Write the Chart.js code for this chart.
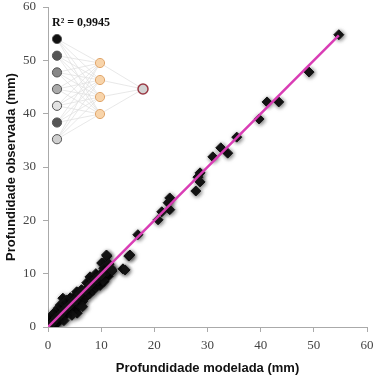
<!DOCTYPE html>
<html lang="pt">
<head>
  <meta charset="UTF-8" />
  <title>Profundidade observada x modelada</title>
  <script src="https://cdn.jsdelivr.net/npm/chart.js"></script>
  <style>
    html, body { margin: 0; padding: 0; background: #fff; }
    #wrap { width: 375px; height: 377px; position: relative; }
  </style>
</head>
<body>
  <div id="wrap"><canvas id="chart"></canvas></div>

  <script>
    // modelada (x) and observada (y), mm
    const modelada = [
      54.7, 49.1, 43.4, 41.2, 39.7, 35.5, 33.8, 32.5, 31.0, 28.6,
      28.2, 28.6, 27.8, 22.9, 22.6, 22.9, 21.4, 20.7, 16.9, 15.2,
      14.1, 11.1, 10.3, 15.4, 14.5,
      0.2, 0.5, 1.0, 1.3, 2.0, 2.3, 2.8, 3.0, 3.5, 4.2,
      4.7, 5.4, 5.8, 6.3, 7.3, 7.9, 8.5, 9.0, 10.1, 10.3,
      11.0, 10.5, 11.5,
      0.8, 1.5, 2.0, 2.8, 3.5, 4.2, 5.0, 5.5, 6.0, 6.5,
      7.0, 7.8, 8.5, 9.0, 9.8, 10.5, 11.3, 12.0, 11.8, 4.5,
      3.0, 6.5, 9.4, 10.3, 11.0, 12.0,
      0.0, 0.3, 0.6, 1.0, 1.6, 2.5, 3.2, 4.0, 5.0, 6.0,
      7.0, 8.0, 9.0, 10.0
    ];
    const observada = [
      54.8, 47.8, 42.2, 42.2, 39.0, 35.6, 32.6, 33.6, 31.9, 28.9,
      28.1, 27.2, 25.5, 24.2, 23.3, 22.0, 21.6, 20.1, 17.3, 13.3,
      10.9, 13.3, 12.0, 13.5, 10.7,
      1.0, 1.8, 2.5, 2.8, 3.6, 4.1, 5.4, 4.5, 5.0, 5.5,
      5.4, 6.6, 6.2, 7.0, 8.3, 9.4, 8.8, 10.0, 12.0, 10.3,
      13.5, 11.0, 11.8,
      0.0, 0.6, 1.0, 1.8, 2.5, 3.0, 3.5, 2.6, 4.0, 4.8,
      5.5, 6.2, 6.9, 7.5, 7.8, 8.5, 9.5, 10.5, 11.0, 2.2,
      1.2, 3.8, 8.8, 8.8, 10.3, 10.7,
      0.0, 0.3, 0.5, 1.0, 1.7, 2.5, 3.3, 4.0, 5.0, 6.2,
      7.0, 8.0, 9.0, 9.8
    ];

    // fitted line ends
    const linhaX = [0, 54.7];
    const linhaY = [0, 54.7];

    const xTicks = [0, 10, 20, 30, 40, 50, 60];
    const yTicks = [0, 10, 20, 30, 40, 50, 60];

    const r2Label = 'R² = 0,9945';

    const pontos = modelada.map((x, i) => ({ x: x, y: observada[i] }));
    const linha = linhaX.map((x, i) => ({ x: x, y: linhaY[i] }));

    // soft shadow on the diamonds
    const shadowPlugin = {
      id: 'shadow',
      beforeDatasetDraw(chart, args) {
        if (args.index === 1) {
          const c = chart.ctx;
          c.save();
          c.shadowColor = 'rgba(0,0,0,0.6)';
          c.shadowBlur = 4;
          c.shadowOffsetX = 1;
          c.shadowOffsetY = 1;
        }
      },
      afterDatasetDraw(chart, args) {
        if (args.index === 1) chart.ctx.restore();
      }
    };

    // little neural net drawing + R² in the top-left corner
    const redePlugin = {
      id: 'rede',
      afterDraw(chart) {
        const c = chart.ctx;
        const L = chart.chartArea.left, T = chart.chartArea.top;
        const entrada = [0, 1, 2, 3, 4, 5, 6].map(i => ({ x: L + 9, y: T + 32 + i * 16.7 }));
        const oculta = [0, 1, 2, 3].map(i => ({ x: L + 52, y: T + 56 + i * 17 }));
        const saida = { x: L + 95, y: T + 82 };
        const coresEntrada = ['#111', '#555', '#888', '#aaa', '#e2e2e2', '#555', '#cfcfcf'];

        c.save();
        c.strokeStyle = '#dedede';
        c.lineWidth = 0.7;
        entrada.forEach(a => oculta.forEach(b => {
          c.beginPath(); c.moveTo(a.x, a.y); c.lineTo(b.x, b.y); c.stroke();
        }));
        oculta.forEach(b => {
          c.beginPath(); c.moveTo(b.x, b.y); c.lineTo(saida.x, saida.y); c.stroke();
        });

        entrada.forEach((p, i) => {
          c.beginPath();
          c.arc(p.x, p.y, 4.6, 0, Math.PI * 2);
          c.fillStyle = coresEntrada[i];
          c.fill();
          c.lineWidth = 1;
          c.strokeStyle = '#555';
          c.stroke();
        });
        oculta.forEach(p => {
          c.beginPath();
          c.arc(p.x, p.y, 4.6, 0, Math.PI * 2);
          c.fillStyle = '#f8d4aa';
          c.fill();
          c.lineWidth = 1;
          c.strokeStyle = '#e0a66c';
          c.stroke();
        });
        c.beginPath();
        c.arc(saida.x, saida.y, 5, 0, Math.PI * 2);
        c.fillStyle = '#d2d2d2';
        c.fill();
        c.lineWidth = 1.5;
        c.strokeStyle = '#9b3a45';
        c.stroke();

        c.fillStyle = '#111';
        c.font = 'bold 12px "Liberation Serif"';
        c.textBaseline = 'alphabetic';
        c.fillText(r2Label, L + 4, T + 19);
        c.restore();
      }
    };

    const tickFont = { family: '"Liberation Serif", serif', size: 13 };
    const titleFont = { family: '"Liberation Sans", Arial, sans-serif', size: 13, weight: 'bold' };

    new Chart(document.getElementById('chart'), {
      type: 'scatter',
      data: {
        datasets: [
          {
            type: 'line',
            data: linha,
            borderColor: '#d93db5',
            borderWidth: 2.5,
            pointRadius: 0,
            fill: false,
            order: 0
          },
          {
            data: pontos,
            pointStyle: 'rectRot',
            pointRadius: 5,
            backgroundColor: '#151515',
            borderColor: '#151515',
            borderWidth: 1,
            order: 1
          }
        ]
      },
      options: {
        responsive: true,
        maintainAspectRatio: false,
        animation: false,
        layout: { padding: { top: 7, right: 8, left: 0, bottom: 0 } },
        plugins: {
          legend: { display: false },
          tooltip: { enabled: false }
        },
        scales: {
          x: {
            type: 'linear',
            min: 0, max: 60,
            afterBuildTicks: s => { s.ticks = xTicks.map(v => ({ value: v })); },
            afterFit: s => { s.height = 50; s.paddingLeft = 0; s.paddingRight = 0; },
            ticks: { font: tickFont, color: '#444', padding: 6, maxRotation: 0 },
            grid: { drawOnChartArea: false, drawTicks: true, tickLength: 5, color: '#aaa' },
            border: { color: '#aaa', width: 1 },
            title: {
              display: true,
              text: 'Profundidade modelada (mm)',
              font: titleFont,
              color: '#111',
              padding: { top: 0, bottom: 1 }
            }
          },
          y: {
            type: 'linear',
            min: 0, max: 60,
            afterBuildTicks: s => { s.ticks = yTicks.map(v => ({ value: v })); },
            afterFit: s => { s.width = 48; s.paddingTop = 0; s.paddingBottom = 0; },
            ticks: { font: tickFont, color: '#444', padding: 7 },
            grid: { drawOnChartArea: false, drawTicks: true, tickLength: 5, color: '#aaa' },
            border: { color: '#aaa', width: 1 },
            title: {
              display: true,
              text: 'Profundidade observada (mm)',
              font: titleFont,
              color: '#111',
              padding: { top: 4, bottom: 0 }
            }
          }
        }
      },
      plugins: [shadowPlugin, redePlugin]
    });
  </script>
</body>
</html>
